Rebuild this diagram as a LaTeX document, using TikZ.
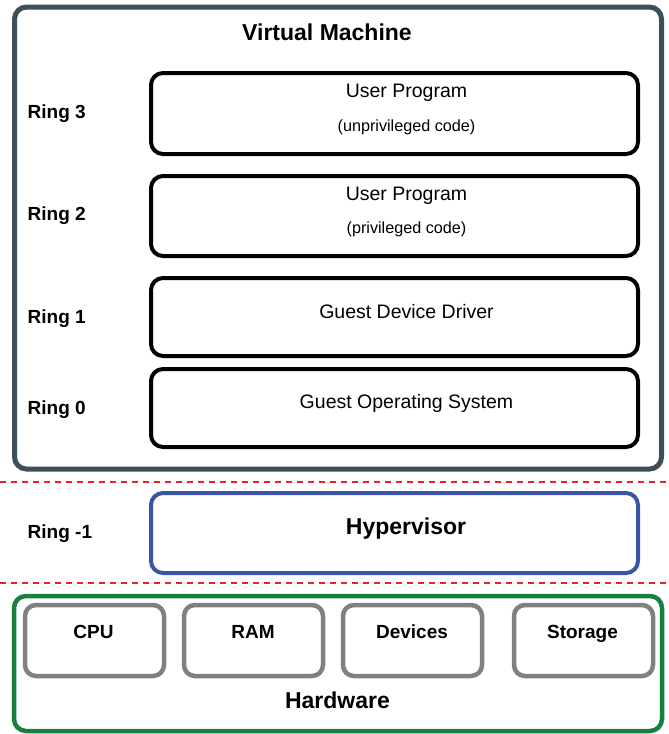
\documentclass[tikz,border=0pt]{standalone}
\usepackage{fontspec}
\setmainfont{Liberation Sans}
\definecolor{vmcol}{HTML}{3D4F58}
\definecolor{hvcol}{HTML}{3A55A4}
\definecolor{hwcol}{HTML}{17803F}
\definecolor{graycol}{HTML}{808080}
\definecolor{redcol}{HTML}{E8202A}
\begin{document}
\begin{tikzpicture}[x=1pt,y=-1pt,
  outerbox/.style={line width=5pt, rounded corners=12pt},
  ringbox/.style={draw=black, line width=4pt, rounded corners=12pt},
  hwitem/.style={draw=graycol, line width=4.5pt, rounded corners=11pt},
  ringlbl/.style={anchor=base west, font=\fontsize{19}{22}\selectfont\bfseries, inner sep=0pt},
  maintxt/.style={anchor=base, font=\fontsize{19.5}{23}\selectfont, inner sep=0pt},
  subtxt/.style={anchor=base, font=\fontsize{16.2}{19}\selectfont, inner sep=0pt},
  titletxt/.style={anchor=base, font=\fontsize{23}{27}\selectfont\bfseries, inner sep=0pt},
  hwtxt/.style={anchor=base, font=\fontsize{19}{22}\selectfont\bfseries, inner sep=0pt},
  sep/.style={draw=redcol, line width=1.8pt, dash pattern=on 6pt off 5pt}]
\useasboundingbox (0,0) rectangle (669,734);
% Virtual machine
\draw[outerbox, draw=vmcol] (14.5,7) rectangle (661.5,469) ;
\node[titletxt] (vm) at (327,40) {Virtual Machine};
% ring boxes
\draw[ringbox] (151,73) rectangle (638,154);
\draw[ringbox] (151,176) rectangle (638,256);
\draw[ringbox] (151,278) rectangle (638,356);
\draw[ringbox] (151,369) rectangle (638,447);
\node[maintxt] (up3) at (406.5,97) {User Program};
\node[subtxt] (up3s) at (406.5,131) {(unprivileged code)};
\node[maintxt] (up2) at (406.5,200) {User Program};
\node[subtxt] (up2s) at (406.5,233) {(privileged code)};
\node[maintxt] (gdd) at (406.5,318) {Guest Device Driver};
\node[maintxt] (gos) at (406.5,408) {Guest Operating System};
\node[ringlbl] (r3) at (27.5,118) {Ring 3};
\node[ringlbl] (r2) at (27.5,220) {Ring 2};
\node[ringlbl] (r1) at (27.5,323) {Ring 1};
\node[ringlbl] (r0) at (27.5,414) {Ring 0};
% separators
\coordinate (s1a) at (0,482); \coordinate (s1b) at (669,482);
\coordinate (s2a) at (0,583); \coordinate (s2b) at (669,583);
\draw[sep] (s1a) -- (s1b);
\draw[sep] (s2a) -- (s2b);
% hypervisor
\draw[ringbox, draw=hvcol] (151,493) rectangle (638,573);
\node[titletxt] (hv) at (406,534) {Hypervisor};
\node[ringlbl] (rm1) at (27.5,538) {Ring -1};
% hardware
\draw[outerbox, line width=4.5pt, draw=hwcol] (14,596) rectangle (662,731);
\draw[hwitem] (25,605) rectangle (164,676);
\draw[hwitem] (184,605) rectangle (323,676);
\draw[hwitem] (343,605) rectangle (482,676);
\draw[hwitem] (514,605) rectangle (653,676);
\node[hwtxt] (cpu) at (93.5,638.5) {CPU};
\node[hwtxt] (ram) at (253,638.5) {RAM};
\node[hwtxt] (dev) at (412,638.5) {Devices};
\node[hwtxt] (sto) at (582.5,638.5) {Storage};
\node[titletxt] (hw) at (337.5,708) {Hardware};
\end{tikzpicture}
\end{document}
